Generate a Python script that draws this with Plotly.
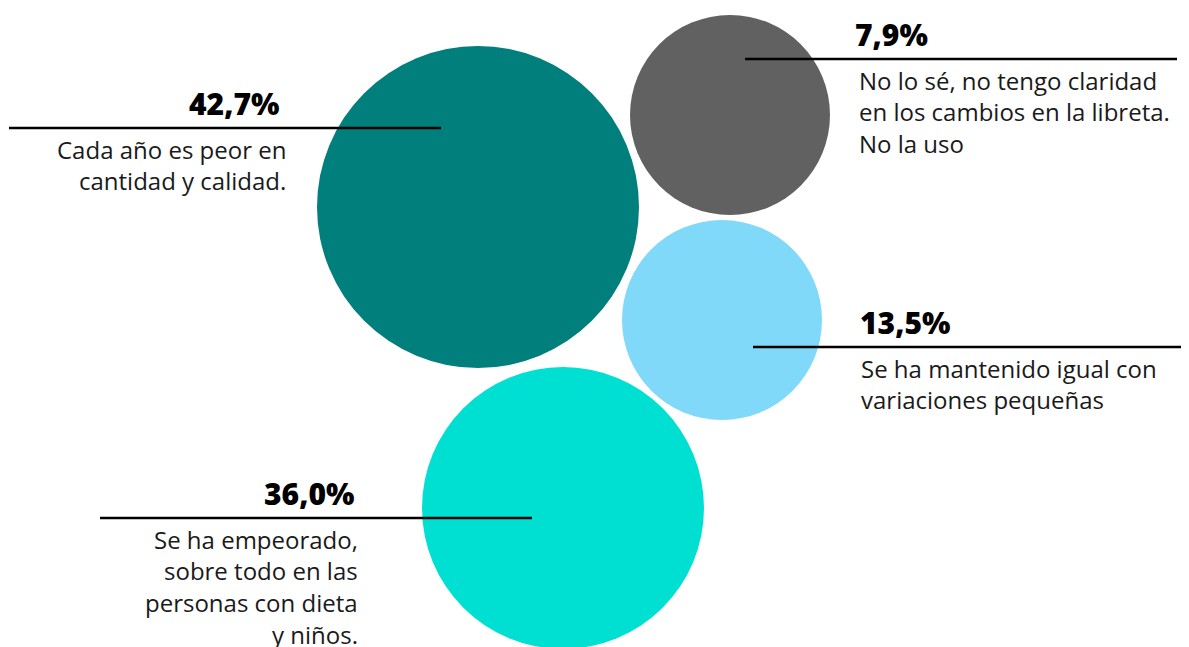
import plotly.graph_objects as go

# ---- data ----
values = [42.7, 7.9, 13.5, 36.0]
value_labels = ["42,7%", "7,9%", "13,5%", "36,0%"]
descriptions = [
    ["Cada año es peor en", "cantidad y calidad."],
    ["No lo sé, no tengo claridad", "en los cambios en la libreta.", "No la uso"],
    ["Se ha mantenido igual con", "variaciones pequeñas"],
    ["Se ha empeorado,", "sobre todo en las", "personas con dieta", "y niños."],
]
colors = ["#017F7D", "#616161", "#80D9F8", "#00E0D2"]

# ---- layout (pixel positions in a 1189x647 canvas) ----
W, H = 1189, 647
OFF = 8  # page body margin
cx = [478, 730, 722, 563]
cy = [207, 115, 320, 508]
radius = [161, 100, 100, 141]
line_x0 = [9, 745, 753, 100]
line_x1 = [441, 1177, 1185, 532]
line_y = [128, 59, 347, 518]
side = ["left", "right", "right", "left"]
pct_x = [281, 853, 858, 356]
desc_x = [288, 857, 859, 360]
pct_dy = -25
desc_dy0 = 21
desc_step = 31.7

FONT = "Open Sans, sans-serif"

fig = go.Figure()
for i in range(len(values)):
    fig.add_trace(go.Scatter(
        x=[cx[i]], y=[cy[i]], mode="markers",
        marker=dict(size=2 * radius[i], color=colors[i], line=dict(width=0)),
        hoverinfo="skip", showlegend=False,
    ))
for i in range(len(values)):
    fig.add_trace(go.Scatter(
        x=[line_x0[i], line_x1[i]], y=[line_y[i], line_y[i]], mode="lines",
        line=dict(color="#000000", width=2.5),
        hoverinfo="skip", showlegend=False,
    ))

annotations = []
for i in range(len(values)):
    anchor = "right" if side[i] == "left" else "left"
    annotations.append(dict(
        x=pct_x[i], y=line_y[i] + pct_dy, xref="x", yref="y",
        text=value_labels[i], showarrow=False,
        xanchor=anchor, yanchor="middle",
        font=dict(family=FONT, size=30, color="#000000", weight=800),
    ))
    for j, line in enumerate(descriptions[i]):
        annotations.append(dict(
            x=desc_x[i], y=line_y[i] + desc_dy0 + j * desc_step, xref="x", yref="y",
            text=line, showarrow=False, xanchor=anchor, yanchor="middle",
            font=dict(family=FONT, size=24, color="#1a1a1a"),
        ))

fig.update_layout(
    width=W, height=H,
    margin=dict(l=0, r=0, t=0, b=0),
    paper_bgcolor="white", plot_bgcolor="white",
    xaxis=dict(range=[OFF, W + OFF], visible=False, fixedrange=True),
    yaxis=dict(range=[H + OFF, OFF], visible=False, fixedrange=True),
    annotations=annotations,
)

fig.write_html("out.html", config={"displayModeBar": False})
